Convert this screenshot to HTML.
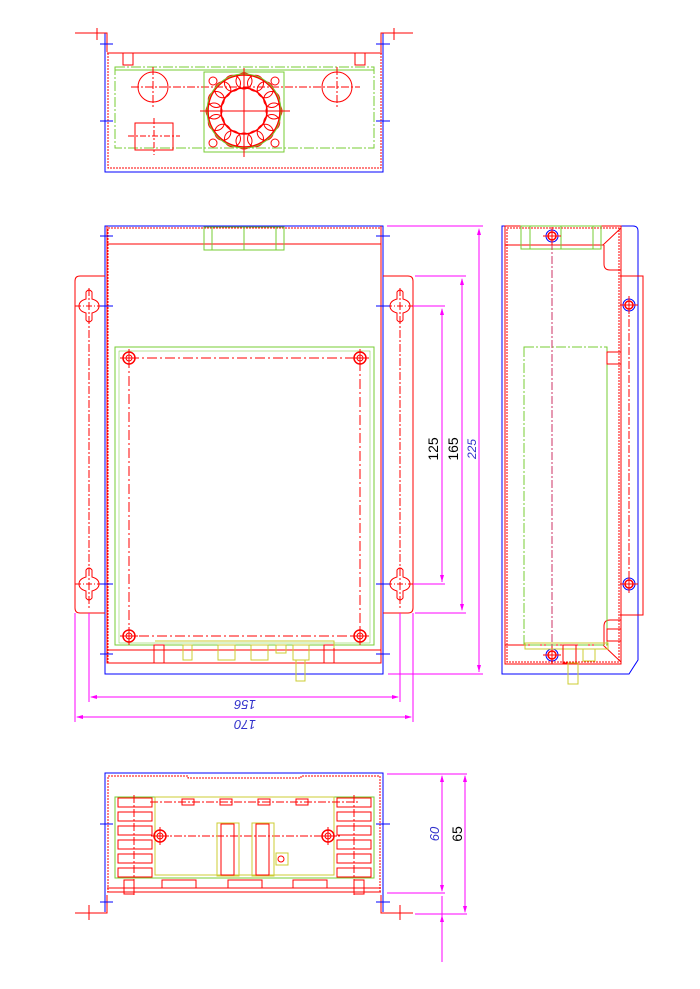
<!DOCTYPE html>
<html><head><meta charset="utf-8"><style>
html,body{margin:0;padding:0;background:#fff;}
svg{display:block;}
text{font-family:"Liberation Sans",sans-serif;}
</style></head><body>
<svg width="700" height="989" viewBox="0 0 700 989" xmlns="http://www.w3.org/2000/svg" fill="none" stroke-width="1">
<defs>
<g id="nut"><circle r="6" stroke="#f00" stroke-width="1.5"/><circle r="3" stroke="#f00"/><path d="M-9 0H9M0-9V9" stroke="#f00"/></g>
<g id="key"><path d="M-3-14 Q0-18 3-14 L3-7 Q10-5 10 0 Q10 5 3 7 L3 14 Q0 18 -3 14 L-3 7 Q-10 5 -10 0 Q-10-5 -3-7Z" stroke="#f00"/><path d="M-14 0H14" stroke="#f00" stroke-dasharray="6 2 1 2"/></g>
<g id="bh"><circle r="6" stroke="#00f"/><circle r="4" stroke="#f00" stroke-width="1.5"/><path d="M-9 0H9M0-9V9" stroke="#f00"/></g>
<circle id="bump" r="8" stroke="#f00"/>
</defs>

<!-- ===== TOP VIEW ===== -->
<g>
<path d="M75 33H105V172H383V33H413" stroke="#00f"/>
<path d="M75 33H107V52M413 33H381V52" stroke="#f00"/>
<path d="M97 28V40M394 28V40" stroke="#f00"/>
<rect x="108" y="53" width="273" height="115" stroke="#f00" stroke-dasharray="2 1"/>
<path d="M107 53H382" stroke="#f00"/>
<rect x="123" y="53" width="10" height="12" stroke="#f00"/><rect x="355" y="53" width="10" height="12" stroke="#f00"/>
<rect x="115" y="67" width="259" height="81" stroke="#7c3" stroke-dasharray="10 2 2 2"/>
<path d="M115 70H374" stroke="#7c3"/>
<path d="M100 44H113M100 121H113M376 44H390M376 121H390" stroke="#00f"/>
<circle cx="153" cy="87" r="15" stroke="#f00"/><circle cx="337" cy="87" r="15" stroke="#f00"/>
<path d="M131 87H360M153 67V108M337 67V108" stroke="#f00" stroke-dasharray="8 2 2 2"/>
<rect x="204" y="72" width="80" height="80" stroke="#7c3"/>
<g transform="translate(244 111)">
<use href="#bump" x="30" y="0"/><use href="#bump" x="27.7" y="11.5"/><use href="#bump" x="21.2" y="21.2"/><use href="#bump" x="11.5" y="27.7"/>
<use href="#bump" x="0" y="30"/><use href="#bump" x="-11.5" y="27.7"/><use href="#bump" x="-21.2" y="21.2"/><use href="#bump" x="-27.7" y="11.5"/>
<use href="#bump" x="-30" y="0"/><use href="#bump" x="-27.7" y="-11.5"/><use href="#bump" x="-21.2" y="-21.2"/><use href="#bump" x="-11.5" y="-27.7"/>
<use href="#bump" x="0" y="-30"/><use href="#bump" x="11.5" y="-27.7"/><use href="#bump" x="21.2" y="-21.2"/><use href="#bump" x="27.7" y="-11.5"/>
</g>
<circle cx="244" cy="111" r="36" stroke="#f00" stroke-width="1.5"/>
<circle cx="244" cy="111" r="23" stroke="#f00" stroke-width="1.5"/>
<circle cx="244" cy="111" r="37" stroke="#7c3"/>
<circle cx="213" cy="81" r="4" stroke="#f00"/><circle cx="275" cy="81" r="4" stroke="#f00"/>
<circle cx="213" cy="143" r="4" stroke="#f00"/><circle cx="275" cy="143" r="4" stroke="#f00"/>
<path d="M200 111H290M244 68V157" stroke="#f00"/>
<rect x="135" y="123" width="38" height="27" stroke="#f00"/>
<path d="M128 136H180M154 118V155" stroke="#f00" stroke-dasharray="6 2 2 2"/>
</g>

<!-- ===== FRONT VIEW ===== -->
<g>
<path d="M105 226H383V674H105Z" stroke="#00f"/>
<rect x="108" y="228" width="273" height="435" stroke="#f00" stroke-dasharray="2 1"/>
<path d="M107 226V663H381V226M107 244H381M107 663H381M107 650H381" stroke="#f00"/>
<rect x="204" y="227" width="80" height="23" stroke="#7c3"/>
<path d="M212 227V250M244 227V250M276 227V250" stroke="#7c3"/>
<path d="M105 276H80Q75 276 75 281V608Q75 613 80 613H105" stroke="#f00"/>
<path d="M383 276H408Q413 276 413 281V608Q413 613 408 613H383" stroke="#f00"/>
<path d="M89 288V610M400 288V610" stroke="#f00" stroke-dasharray="8 2 2 2"/>
<use href="#key" x="89" y="306"/><use href="#key" x="89" y="584"/>
<use href="#key" x="400" y="306"/><use href="#key" x="400" y="584"/>
<path d="M100 236H113M100 306H113M100 584H113M100 654H113M376 236H390M376 306H390M376 584H390M376 654H390" stroke="#00f"/>
<rect x="115" y="347" width="259" height="298" stroke="#7c3"/>
<rect x="119" y="351" width="251" height="292" stroke="#7c3" stroke-width="0.5"/>
<path d="M129 358H360V636H129Z" stroke="#f00" stroke-dasharray="10 3 2 3"/>
<use href="#nut" x="129" y="358"/><use href="#nut" x="360" y="358"/>
<use href="#nut" x="129" y="636"/><use href="#nut" x="360" y="636"/>
<rect x="154" y="645" width="10" height="18" stroke="#f00"/><rect x="324" y="645" width="10" height="18" stroke="#f00"/>
<path d="M155 641H334V648" stroke="#cc3"/>
<rect x="183" y="645" width="9" height="15" stroke="#cc3"/>
<rect x="218" y="645" width="17" height="15" stroke="#cc3"/>
<rect x="251" y="645" width="17" height="15" stroke="#cc3"/>
<rect x="276" y="645" width="10" height="8" stroke="#cc3"/>
<rect x="293" y="645" width="16" height="15" stroke="#cc3"/>
<rect x="296" y="660" width="9" height="21" stroke="#cc3"/>
<g stroke="#f0f">
<path d="M387 226H483M388 674H483M479 230V672"/>
<path d="M415 276H466M415 613H466M462 279V610"/>
<path d="M413 306H445M413 584H445M442 309V582"/>
<path d="M89 613V702M400 613V702M91 697H398"/>
<path d="M75 613V722M413 613V722M77 717H411"/>
</g>
<g fill="#f0f"><path d="M479 228l-2 7h4z M479 672l-2-7h4z M462 278l-2 7h4z M462 611l-2-7h4z M442 308l-2 7h4z M442 582l-2-7h4z M90 697l7-2v4z M399 697l-7-2v4z M76 717l7-2v4z M412 717l-7-2v4z"/></g>
<text transform="translate(438 449) rotate(-90)" font-size="14" fill="#000" text-anchor="middle">125</text>
<text transform="translate(458 449) rotate(-90)" font-size="14" fill="#000" text-anchor="middle">165</text>
<text transform="translate(476 449) rotate(-90)" font-size="12" fill="#33c" font-style="italic" text-anchor="middle">225</text>
<text transform="translate(245 700) rotate(180)" font-size="13" fill="#33c" font-style="italic" text-anchor="middle">156</text>
<text transform="translate(245 720) rotate(180)" font-size="13" fill="#33c" font-style="italic" text-anchor="middle">170</text>
</g>

<!-- ===== SIDE VIEW ===== -->
<g>
<path d="M502 226H633Q638 226 638 231V660L629 674H502Z" stroke="#00f"/>
<path d="M505 226V664H621V226Z" stroke="#f00"/>
<rect x="507" y="228" width="112" height="434" stroke="#f00" stroke-dasharray="2 1"/>
<path d="M505 245H603L621 228M505 645H603L621 662" stroke="#f00"/>
<path d="M621 270H610Q604 270 604 264V245M621 620H610Q604 620 604 626V645" stroke="#f00"/>
<path d="M620 276H643V615H620" stroke="#f00"/>
<rect x="521" y="226" width="80" height="23" stroke="#7c3"/>
<path d="M530 226V249M561 226V249M593 226V249" stroke="#7c3"/>
<rect x="524" y="347" width="83" height="298" stroke="#7c3" stroke-dasharray="10 2 2 2"/>
<path d="M607 347V645" stroke="#7c3"/>
<rect x="607" y="352" width="14" height="12" stroke="#f00"/><rect x="607" y="629" width="14" height="12" stroke="#f00"/>
<path d="M552 228V664" stroke="#c36" stroke-dasharray="8 2 2 2"/>
<path d="M629 305V584" stroke="#f00" stroke-dasharray="8 2 2 2"/>
<use href="#bh" x="552" y="236"/><use href="#bh" x="552" y="655"/>
<use href="#bh" x="629" y="305"/><use href="#bh" x="629" y="584"/>
<rect x="525" y="643" width="83" height="6" stroke="#cc3"/>
<rect x="563" y="645" width="13" height="18" stroke="#f00"/>
<rect x="568" y="663" width="10" height="21" stroke="#cc3"/>
<rect x="583" y="649" width="12" height="12" stroke="#cc3"/>
</g>

<!-- ===== BOTTOM VIEW ===== -->
<g>
<path d="M105 912V773H383V912" stroke="#00f"/>
<path d="M75 913H107V895M413 913H381V895" stroke="#f00"/>
<path d="M89 905V920M400 905V920" stroke="#f00"/>
<path d="M108 776H188V778H301V776H380V892H108Z" stroke="#f00" stroke-dasharray="2 1"/>
<path d="M107 888H381M107 892H381" stroke="#f00"/>
<path d="M100 824H113M100 902H113M376 824H390M376 902H390" stroke="#00f"/>
<rect x="115" y="797" width="259" height="81" stroke="#7c3"/>
<rect x="155" y="797" width="179" height="78" stroke="#cc3"/>
<g stroke="#f00">
<rect x="118" y="798" width="34" height="9"/><rect x="118" y="812" width="34" height="9"/><rect x="118" y="826" width="34" height="9"/><rect x="118" y="840" width="34" height="9"/><rect x="118" y="854" width="34" height="9"/><rect x="118" y="868" width="34" height="9"/>
<rect x="337" y="798" width="34" height="9"/><rect x="337" y="812" width="34" height="9"/><rect x="337" y="826" width="34" height="9"/><rect x="337" y="840" width="34" height="9"/><rect x="337" y="854" width="34" height="9"/><rect x="337" y="868" width="34" height="9"/>
<rect x="182" y="799" width="12" height="6"/><rect x="220" y="799" width="12" height="6"/><rect x="258" y="799" width="12" height="6"/><rect x="296" y="799" width="12" height="6"/>
<rect x="162" y="880" width="34" height="8"/><rect x="228" y="880" width="34" height="8"/><rect x="293" y="880" width="34" height="8"/>
<rect x="124" y="880" width="10" height="14"/><rect x="354" y="880" width="10" height="14"/>
<rect x="221" y="824" width="13" height="51"/><rect x="256" y="824" width="13" height="51"/>
<path d="M134 795V895M354 795V895M150 802H360M160 836H340" stroke-dasharray="8 2 2 2"/>
</g>
<rect x="217" y="823" width="22" height="53" stroke="#cc3"/><rect x="252" y="823" width="22" height="53" stroke="#cc3"/>
<rect x="276" y="853" width="12" height="12" stroke="#cc3"/><circle cx="281" cy="859" r="3" stroke="#f00"/>
<use href="#nut" x="160" y="836"/><use href="#nut" x="328" y="836"/>
<g stroke="#f0f">
<path d="M387 774H467M387 893H445M415 914H467M442 776V891M442 896V962M465 776V912"/>
</g>
<g fill="#f0f"><path d="M442 775l-2 7h4z M442 892l-2-7h4z M465 775l-2 7h4z M465 913l-2-7h4z M442 915l-2 7h4z"/></g>
<text transform="translate(439 834) rotate(-90)" font-size="13" fill="#33c" font-style="italic" text-anchor="middle">60</text>
<text transform="translate(462 834) rotate(-90)" font-size="14" fill="#000" text-anchor="middle">65</text>
</g>
</svg>
</body></html>
